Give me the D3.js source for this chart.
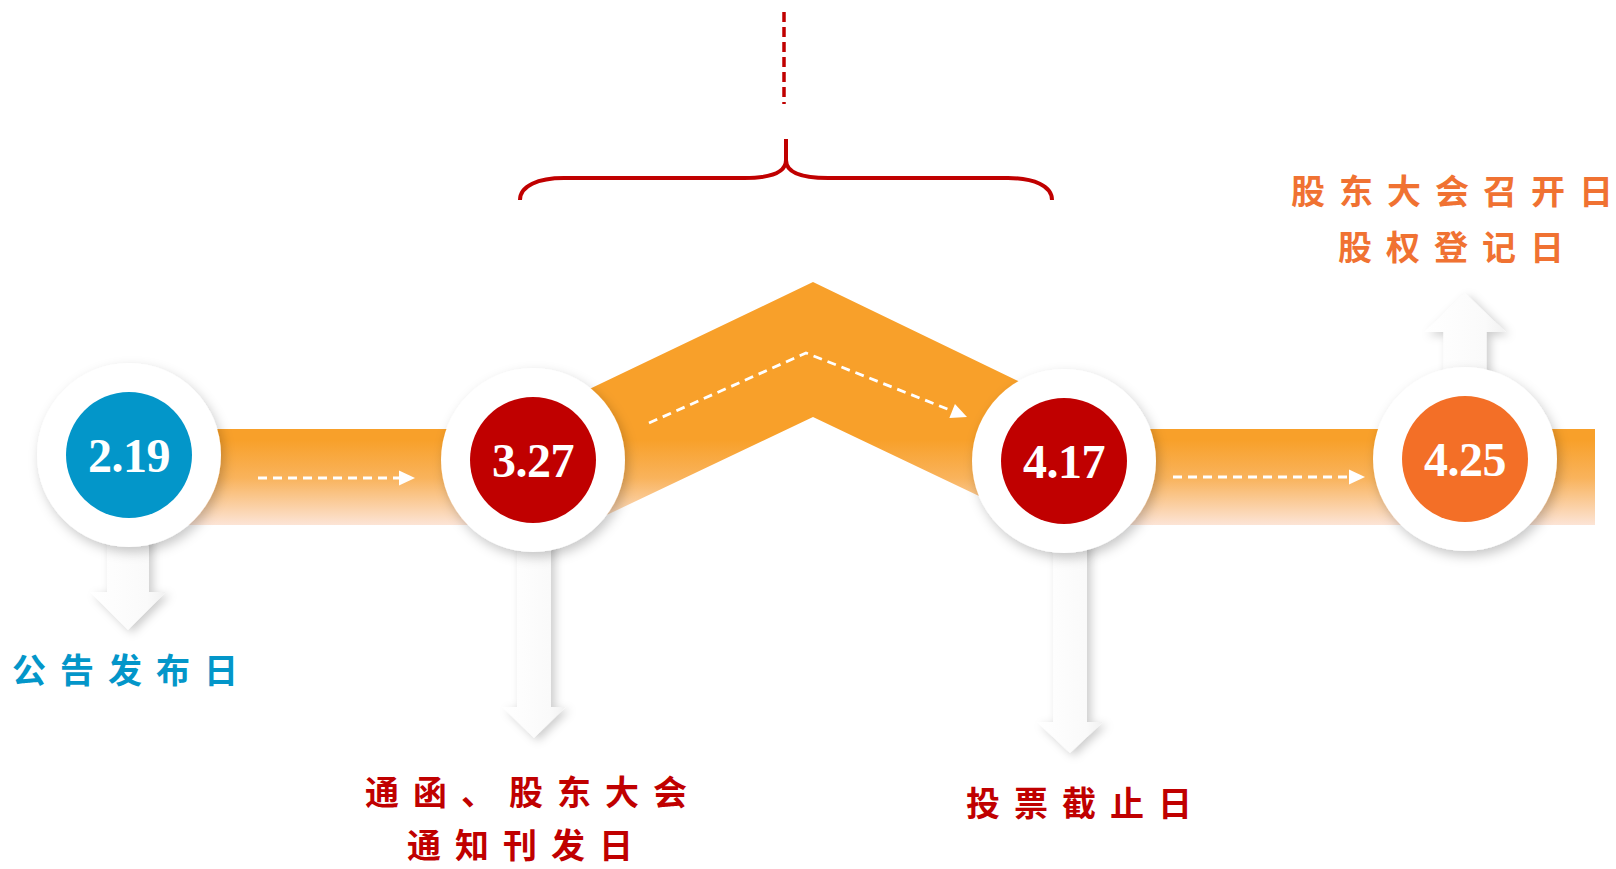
<!DOCTYPE html>
<html>
<head>
<meta charset="utf-8">
<script src="https://cdn.jsdelivr.net/npm/d3@7"></script>
<style>
  html, body { margin: 0; padding: 0; background: #ffffff; overflow: hidden; }
  svg { display: block; }
</style>
</head>
<body>
<svg id="chart" width="1616" height="869"></svg>
<script>
// ---- timeline content ----
const dates = ["2.19", "3.27", "4.17", "4.25"];
const nodeColors = ["#0396C9", "#C00000", "#C00000", "#F36F27"];
const eventLabels = [
  ["公告发布日"],
  ["通函、股东大会", "通知刊发日"],
  ["投票截止日"],
  ["股东大会召开日", "股权登记日"]
];
const labelColors = ["#0396C9", "#C00000", "#C00000", "#F07232"];

// ---- layout ----
const W = 1616, H = 869;
const nodeX = [129, 533, 1064, 1465];
const nodeY = [455, 460, 461, 459];
const outerR = 92, innerR = 63;
const bandTop = 429, bandBottom = 525, bandEnd = 1595;
// stem arrows: shaft width, head width, head base y, tip y, horizontal nudge
const arrowGeom = [
  { shaft: 42, head: 76, base: 592, tip: 630, dx: -1 },
  { shaft: 34, head: 63, base: 707, tip: 738, dx: 1 },
  { shaft: 34, head: 66, base: 722, tip: 753, dx: 6 },
  { shaft: 43, head: 81, base: 332, tip: 293, dx: 0 }
];
// label line centres
const labelPos = [
  [[125, 670]],
  [[526, 792], [520, 845]],
  [[1079, 803]],
  [[1452, 191], [1451, 247]]
];
const fontSize = 34, letterSpace = 14;

const x = d3.scaleOrdinal().domain(dates).range(nodeX);
const y = d3.scaleOrdinal().domain(dates).range(nodeY);

const svg = d3.select("#chart");
const defs = svg.append("defs");

// band gradient: saturated orange fading to pale peach at the bottom
const grad = defs.append("linearGradient")
  .attr("id", "bandGrad")
  .attr("gradientUnits", "userSpaceOnUse")
  .attr("x1", 0).attr("x2", 0).attr("y1", 440).attr("y2", bandBottom);
grad.append("stop").attr("offset", 0).attr("stop-color", "#F8A02A");
grad.append("stop").attr("offset", 0.45).attr("stop-color", "#F9B35C");
grad.append("stop").attr("offset", 1).attr("stop-color", "#FCE4D6");

const shaftGrad = defs.append("linearGradient")
  .attr("id", "shaftGrad").attr("x1", 0).attr("x2", 1).attr("y1", 0).attr("y2", 0);
shaftGrad.append("stop").attr("offset", 0).attr("stop-color", "#ffffff");
shaftGrad.append("stop").attr("offset", 0.75).attr("stop-color", "#fafafa");
shaftGrad.append("stop").attr("offset", 1).attr("stop-color", "#f1f1f1");

const circleShadow = defs.append("filter").attr("id", "circleShadow")
  .attr("x", "-30%").attr("y", "-30%").attr("width", "160%").attr("height", "160%");
circleShadow.append("feDropShadow")
  .attr("dx", 3).attr("dy", 5).attr("stdDeviation", 6)
  .attr("flood-color", "#000").attr("flood-opacity", 0.22);

const arrowShadow = defs.append("filter").attr("id", "arrowShadow")
  .attr("x", "-60%").attr("y", "-20%").attr("width", "220%").attr("height", "140%");
arrowShadow.append("feDropShadow")
  .attr("dx", 4).attr("dy", 3).attr("stdDeviation", 5)
  .attr("flood-color", "#000").attr("flood-opacity", 0.2);

// ---- orange band segments ----
const bandLayer = svg.append("g");
bandLayer.append("rect")
  .attr("x", x(dates[0])).attr("y", bandTop)
  .attr("width", x(dates[1]) - x(dates[0])).attr("height", bandBottom - bandTop)
  .attr("fill", "url(#bandGrad)");
bandLayer.append("rect")
  .attr("x", x(dates[2])).attr("y", bandTop)
  .attr("width", bandEnd - x(dates[2])).attr("height", bandBottom - bandTop)
  .attr("fill", "url(#bandGrad)");

// raised chevron between the two red milestones
const apexX = 813, apexTop = 282, apexBottom = 417;
const xa = x(dates[1]), xb = x(dates[2]);
const chevron = [
  [xa, apexTop + 0.479 * (apexX - xa)],
  [apexX, apexTop],
  [xb, apexTop + 0.483 * (xb - apexX)],
  [xb, apexBottom + 0.476 * (xb - apexX)],
  [apexX, apexBottom],
  [xa, apexBottom + 0.475 * (apexX - xa)]
];
bandLayer.append("path")
  .attr("d", d3.line()(chevron) + "Z")
  .attr("fill", "url(#bandGrad)");

// ---- dashed flow arrows on the band ----
const flows = [
  [[258, 478], [403, 478]],
  [[649, 423], [806, 353], [955, 412]],
  [[1173, 477], [1352, 477]]
];
const flowHeads = [
  [[415, 478], 0],
  [[967, 417], Math.atan2(64, 160) * 180 / Math.PI],
  [[1365, 477], 0]
];
const flowLayer = svg.append("g");
flows.forEach(pts => {
  flowLayer.append("path")
    .attr("d", d3.line()(pts))
    .attr("fill", "none")
    .attr("stroke", "#ffffff")
    .attr("stroke-width", 2.8)
    .attr("stroke-dasharray", "9,6");
});
flowHeads.forEach(([p, ang]) => {
  flowLayer.append("path")
    .attr("d", "M0,0 L-16,-7.5 L-16,7.5 Z")
    .attr("transform", `translate(${p[0]},${p[1]}) rotate(${ang})`)
    .attr("fill", "#ffffff");
});

// ---- stem arrows from each milestone ----
const arrowLayer = svg.append("g");
dates.forEach((d, i) => {
  const g = arrowGeom[i];
  const cx = x(d) + g.dx, cy = y(d);
  const s = g.shaft / 2, h = g.head / 2;
  const pts = [
    [cx - s, cy], [cx - s, g.base], [cx - h, g.base], [cx, g.tip],
    [cx + h, g.base], [cx + s, g.base], [cx + s, cy]
  ];
  arrowLayer.append("path")
    .attr("d", d3.line()(pts) + "Z")
    .attr("fill", "url(#shaftGrad)")
    .attr("filter", "url(#arrowShadow)");
});

// ---- milestone circles ----
const nodes = svg.append("g").selectAll("g")
  .data(dates)
  .join("g")
  .attr("transform", d => `translate(${x(d)},${y(d)})`);

nodes.append("circle")
  .attr("r", outerR)
  .attr("fill", "#ffffff")
  .attr("filter", "url(#circleShadow)");

nodes.append("circle")
  .attr("r", innerR)
  .attr("fill", (d, i) => nodeColors[i]);

nodes.append("text")
  .attr("text-anchor", "middle")
  .attr("y", 17)
  .attr("fill", "#ffffff")
  .attr("font-family", "'Liberation Serif', 'Times New Roman', serif")
  .attr("font-weight", "bold")
  .attr("font-size", 48)
  .attr("letter-spacing", -0.5)
  .text(d => d);

// ---- event labels (spaced characters; the last one carries no trailing gap) ----
const labelLayer = svg.append("g");
dates.forEach((d, i) => {
  eventLabels[i].forEach((line, j) => {
    const [lx, ly] = labelPos[i][j];
    const chars = Array.from(line);
    const t = labelLayer.append("text")
      .attr("x", lx)
      .attr("y", ly + 0.38 * fontSize)
      .attr("text-anchor", "middle")
      .attr("fill", labelColors[i])
      .attr("font-family", "'Noto Sans CJK SC', sans-serif")
      .attr("font-weight", 700)
      .attr("font-size", fontSize);
    t.append("tspan")
      .attr("letter-spacing", letterSpace)
      .text(chars.slice(0, -1).join(""));
    t.append("tspan")
      .attr("letter-spacing", 0)
      .text(chars[chars.length - 1]);
  });
});

// ---- brace over the voting period ----
const braceColor = "#C00000";
const braceMid = 786, braceTop = 139, braceCusp = 160, braceLine = 178, braceFoot = 200;
const braceL = 520, braceR = 1052;
const bracePath = d3.path();
bracePath.moveTo(braceL, braceFoot);
bracePath.bezierCurveTo(braceL, 186, braceL + 18, braceLine, braceL + 44, braceLine);
bracePath.lineTo(braceMid - 42, braceLine);
bracePath.bezierCurveTo(braceMid - 14, braceLine, braceMid, 172, braceMid, braceCusp);
bracePath.lineTo(braceMid, braceTop);
bracePath.moveTo(braceMid, braceCusp);
bracePath.bezierCurveTo(braceMid, 172, braceMid + 14, braceLine, braceMid + 42, braceLine);
bracePath.lineTo(braceR - 44, braceLine);
bracePath.bezierCurveTo(braceR - 18, braceLine, braceR, 186, braceR, braceFoot);
svg.append("path")
  .attr("d", bracePath.toString())
  .attr("fill", "none")
  .attr("stroke", braceColor)
  .attr("stroke-width", 4);

svg.append("line")
  .attr("x1", 784).attr("x2", 784)
  .attr("y1", 12).attr("y2", 104)
  .attr("stroke", braceColor)
  .attr("stroke-width", 3.5)
  .attr("stroke-dasharray", "10,5");
</script>
</body>
</html>
